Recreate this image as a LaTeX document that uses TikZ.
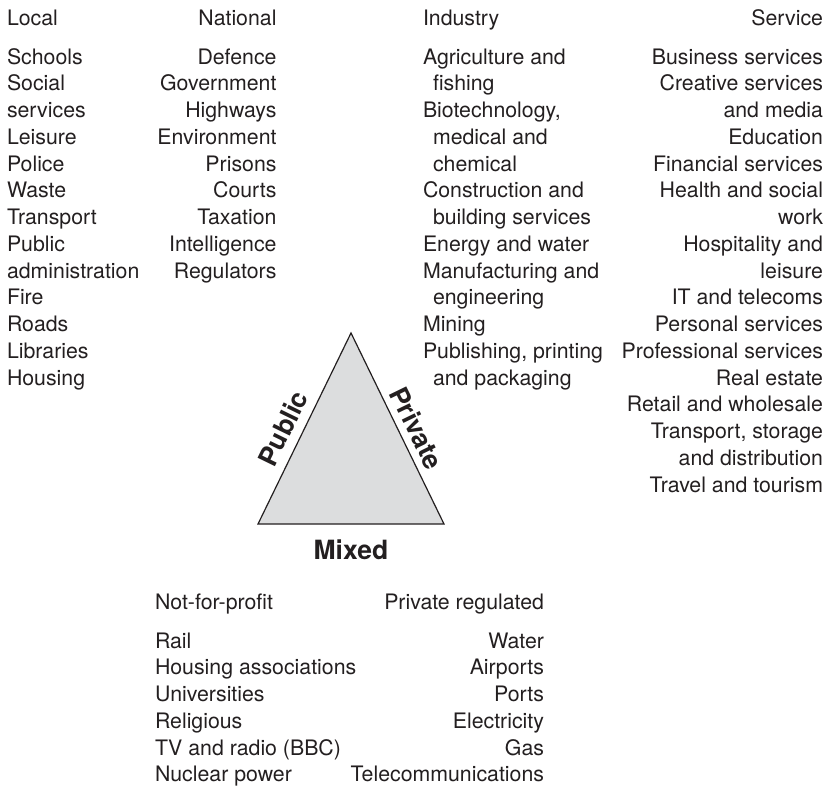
\documentclass[tikz,border=0pt]{standalone}
\usepackage{fontspec}
\setmainfont{TeX Gyre Heros}
\definecolor{ink}{HTML}{231F20}
\definecolor{trifill}{HTML}{DCDDDE}
\newcommand\indl{\hspace*{10pt}}
\begin{document}
\begin{tikzpicture}[x=1pt,y=-1pt,
  every node/.style={inner sep=0pt, outer sep=0pt, text=ink},
  lbl/.style={font=\fontsize{21.3}{26.75}\selectfont},
  listL/.style={lbl, align=left, anchor=north west},
  listR/.style={lbl, align=right, anchor=north east},
  headL/.style={lbl, anchor=base west},
  headR/.style={lbl, anchor=base east},
  side/.style={font=\fontsize{26.5}{30}\selectfont\bfseries, anchor=base},
  tri/.style={draw=ink, line width=1.2pt, fill=trifill, line join=miter}
]
\useasboundingbox (0,0) rectangle (826,787);

% headers
\node[headL] (hlocal) at (7,25) {Local};
\node[headR] (hnational) at (276.5,25) {National};
\node[headL] (hindustry) at (423,25) {Industry};
\node[headR] (hservice) at (823,25) {Service};

% lists
\node[listL] (local) at (7,45.3) {\strut Schools\\Social\\services\\Leisure\\Police\\Waste\\Transport\\Public\\administration\\Fire\\Roads\\Libraries\\Housing};
\node[listR] (national) at (276.5,45.3) {\strut Defence\\Government\\Highways\\Environment\\Prisons\\Courts\\Taxation\\Intelligence\\Regulators};
\node[listL] (industry) at (423,45.3) {\strut Agriculture and\\\indl fishing\\Biotechnology,\\\indl medical and\\\indl chemical\\Construction and\\\indl building services\\Energy and water\\Manufacturing and\\\indl engineering\\Mining\\Publishing, printing\\\indl and packaging};
\node[listR] (service) at (823,45.3) {\strut Business services\\Creative services\\and media\\Education\\Financial services\\Health and social\\work\\Hospitality and\\leisure\\IT and telecoms\\Personal services\\Professional services\\Real estate\\Retail and wholesale\\Transport, storage\\and distribution\\Travel and tourism};

% triangle
\coordinate (A) at (351,333);
\coordinate (L) at (258,524);
\coordinate (R) at (444,524);
\draw[tri] (A) -- (L) -- (R) -- cycle;
\node[side, rotate=64] (public) at (291.6,432.5) {Public};
\node[side, rotate=-64] (private) at (408.0,432.5) {Private};
\node[side] (mixed) at (351,559.5) {Mixed};

% bottom
\node[headL] (hnfp) at (155,609) {Not-for-profit};
\node[headR] (hpr) at (544,609) {Private regulated};
\node[listL] (nfp) at (155,629.3) {\strut Rail\\Housing associations\\Universities\\Religious\\TV and radio (BBC)\\Nuclear power};
\node[listR] (pr) at (544,629.3) {\strut Water\\Airports\\Ports\\Electricity\\Gas\\Telecommunications};
\end{tikzpicture}
\end{document}
